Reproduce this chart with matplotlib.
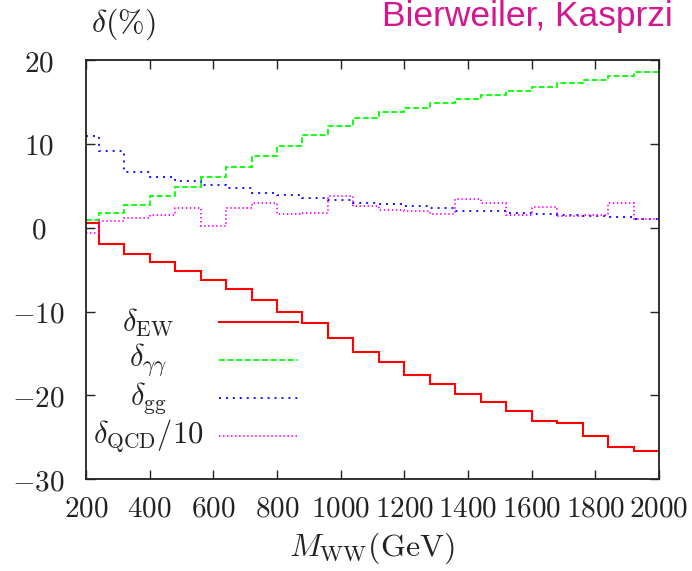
import numpy as np
import matplotlib
matplotlib.use("Agg")
import matplotlib.pyplot as plt
from matplotlib.ticker import FuncFormatter, MultipleLocator

plt.rcParams["mathtext.fontset"] = "cm"
plt.rcParams["lines.scale_dashes"] = False

# bin edges in M_WW (GeV): first bin 200-240, then 80 GeV wide
edges = np.r_[200, np.arange(240, 2001, 80)]

# relative corrections per bin (%)
delta_ew = [0.6, -1.9, -3.1, -4.1, -5.2, -6.2, -7.3, -8.6, -10.1, -11.4, -13.2, -14.8,
            -16.0, -17.6, -18.6, -19.8, -20.8, -21.9, -23.1, -23.3, -24.8, -26.1, -26.6]
delta_aa = [0.9, 1.7, 2.7, 3.8, 4.9, 6.1, 7.3, 8.55, 9.8, 11.05, 12.15, 13.05,
            13.8, 14.3, 14.85, 15.3, 15.85, 16.3, 16.75, 17.2, 17.65, 18.1, 18.55]
delta_gg = [10.95, 9.2, 6.65, 6.0, 5.6, 5.15, 4.7, 4.2, 3.85, 3.55, 3.25, 3.0,
            2.8, 2.55, 2.3, 2.05, 1.95, 1.75, 1.6, 1.5, 1.4, 1.3, 1.1]
delta_qcd10 = [-0.65, 0.75, 1.15, 1.5, 2.3, 0.25, 2.35, 3.0, 1.65, 1.8, 3.8, 2.55,
               2.15, 2.05, 1.65, 3.45, 2.9, 1.5, 2.45, 1.45, 1.5, 2.9, 1.1]

labels = [r"$\delta_{\rm EW}$", r"$\delta_{\gamma\gamma}$", r"$\delta_{\rm gg}$",
          r"$\delta_{\rm QCD}/10$"]
colors = ["#ff0000", "#00ff00", "#0000ff", "#ff00ff"]
styles = ["-", (0, (4.2, 2.0)), (0, (1.4, 3.6)), (0, (1.0, 1.9))]
widths = [1.5, 1.3, 1.3, 1.3]

fig = plt.figure(figsize=(6.92, 5.71), dpi=100)
ax = fig.add_axes([0.1243, 0.1606, 0.8280, 0.7343])

for vals, c, ls, lw in zip([delta_ew, delta_aa, delta_gg, delta_qcd10], colors, styles, widths):
    ax.stairs(vals, edges, baseline=None, color=c, linestyle=ls, linewidth=lw)

ax.set_xlim(200, 2000)
ax.set_ylim(-30, 20)
ax.xaxis.set_major_locator(MultipleLocator(200))
ax.yaxis.set_major_locator(MultipleLocator(10))
fmt = FuncFormatter(lambda v, p: "$%d$" % int(round(v)))
ax.xaxis.set_major_formatter(fmt)
ax.yaxis.set_major_formatter(fmt)
ax.tick_params(direction="in", length=6.5, width=1.0, top=True, right=True,
               labelsize=21, colors="#222222")
ax.tick_params(axis="x", pad=11)
ax.tick_params(axis="y", pad=34)
for lab in ax.get_yticklabels():
    lab.set_horizontalalignment("center")
for sp in ax.spines.values():
    sp.set_linewidth(1.3)
    sp.set_color("#222222")

# legend drawn gnuplot-style: centred labels, sample line to the right
leg_y = [0.374, 0.2845, 0.1946, 0.104]
for lab, c, ls, lw, y in zip(labels, colors, styles, widths, leg_y):
    ax.plot([0.232, 0.370], [y, y], transform=ax.transAxes, color=c,
            linestyle=ls, linewidth=lw)
    ax.text(0.108, y, lab, transform=ax.transAxes, ha="center", va="center",
            fontsize=22, color="#222222")

fig.text(123 / 692, 1 - 24 / 571, r"$\delta(\%)$", ha="center", va="center",
         fontsize=23, color="#222222")
fig.text(372 / 692, 1 - 548 / 571, r"$M_{\rm WW}(\rm GeV)$", ha="center",
         va="center", fontsize=23, color="#222222")
fig.text(382 / 692, 1 - 26 / 571, "Bierweiler, Kasprzi", ha="left",
         va="baseline", fontsize=25.5, color="#d4178f", family="Liberation Sans")

fig.savefig("out.png", dpi=100)
